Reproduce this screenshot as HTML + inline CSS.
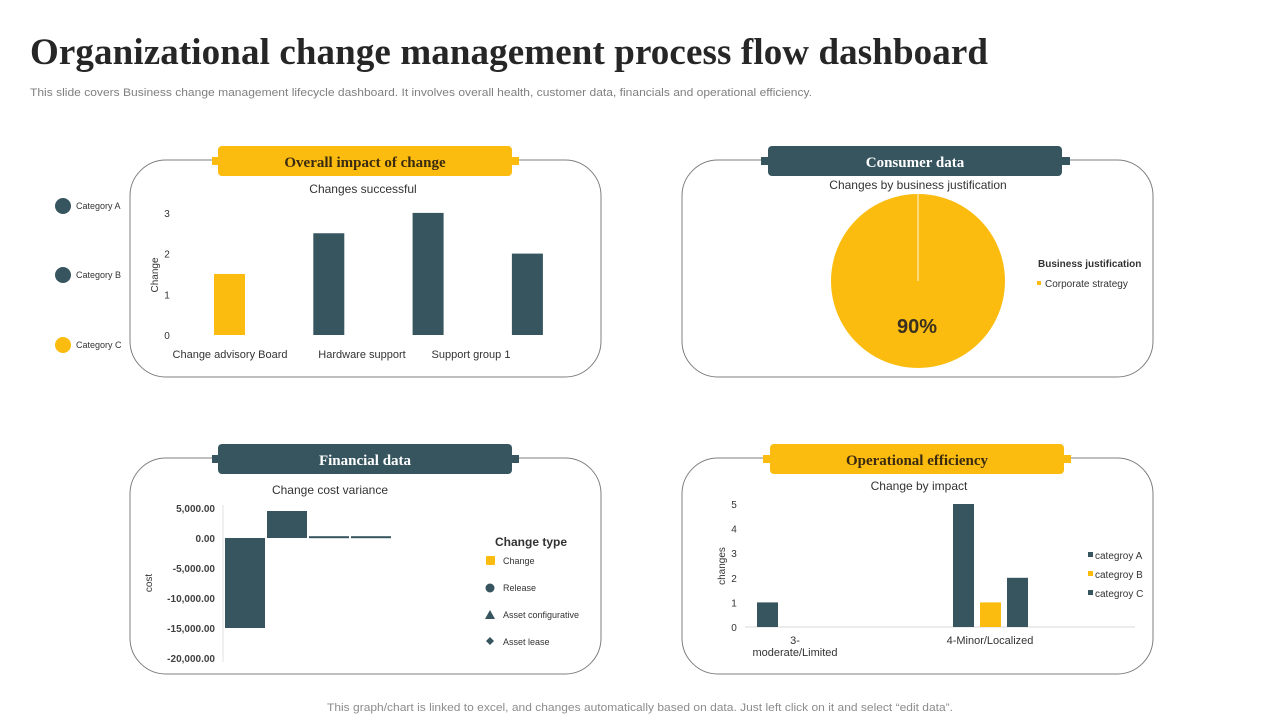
<!DOCTYPE html>
<html><head><meta charset="utf-8"><style>
html,body{margin:0;padding:0;background:#fff;}
svg{display:block;font-family:"Liberation Sans",Arial,sans-serif;}
</style></head><body>
<svg id="s" width="1280" height="720" viewBox="0 0 1280 720" xmlns="http://www.w3.org/2000/svg">
<text x="30" y="64" font-family="Liberation Serif,serif" font-weight="bold" font-size="37" fill="#262626" textLength="958" lengthAdjust="spacing">Organizational change management process flow dashboard</text>
<text x="30" y="96" font-size="11" fill="#7f7f7f" textLength="782" lengthAdjust="spacingAndGlyphs">This slide covers Business change management lifecycle dashboard. It involves overall health, customer data, financials and operational efficiency.</text>
<text x="327" y="711" font-size="11" fill="#8c8c8c" textLength="626" lengthAdjust="spacingAndGlyphs">This graph/chart is linked to excel,  and changes automatically based on data. Just left click on it and select “edit data”.</text>

<g fill="none" stroke="#7f7f7f" stroke-width="1">
<rect x="130" y="160" width="471" height="217" rx="36"/>
<rect x="682" y="160" width="471" height="217" rx="36"/>
<rect x="130" y="458" width="471" height="216" rx="36"/>
<rect x="682" y="458" width="471" height="216" rx="36"/>
</g>
<g>
<rect x="220" y="159" width="291" height="3" fill="#fff"/>
<rect x="212" y="157" width="8" height="8" fill="#FBBC0F"/><rect x="511" y="157" width="8" height="8" fill="#FBBC0F"/>
<rect x="218" y="146" width="294" height="30" rx="4" fill="#FBBC0F"/>
<text x="365" y="167" text-anchor="middle" font-family="Liberation Serif,serif" font-weight="bold" font-size="15" fill="#3a2a10">Overall impact of change</text></g>
<g>
<rect x="769" y="159" width="293" height="3" fill="#fff"/>
<rect x="761" y="157" width="8" height="8" fill="#37555F"/><rect x="1062" y="157" width="8" height="8" fill="#37555F"/>
<rect x="768" y="146" width="294" height="30" rx="4" fill="#37555F"/>
<text x="915" y="167" text-anchor="middle" font-family="Liberation Serif,serif" font-weight="bold" font-size="15" fill="#fff">Consumer data</text></g>
<g>
<rect x="220" y="457" width="291" height="3" fill="#fff"/>
<rect x="212" y="455" width="8" height="8" fill="#37555F"/><rect x="511" y="455" width="8" height="8" fill="#37555F"/>
<rect x="218" y="444" width="294" height="30" rx="4" fill="#37555F"/>
<text x="365" y="465" text-anchor="middle" font-family="Liberation Serif,serif" font-weight="bold" font-size="15" fill="#fff">Financial data</text></g>
<g>
<rect x="771" y="457" width="292" height="3" fill="#fff"/>
<rect x="763" y="455" width="8" height="8" fill="#FBBC0F"/><rect x="1063" y="455" width="8" height="8" fill="#FBBC0F"/>
<rect x="770" y="444" width="294" height="30" rx="4" fill="#FBBC0F"/>
<text x="917" y="465" text-anchor="middle" font-family="Liberation Serif,serif" font-weight="bold" font-size="15" fill="#3a2a10">Operational efficiency</text></g>

<g font-size="9" fill="#333">
<circle cx="63" cy="206" r="8" fill="#37555F"/><text x="76" y="209">Category A</text>
<circle cx="63" cy="275" r="8" fill="#37555F"/><text x="76" y="278">Category B</text>
<circle cx="63" cy="345" r="8" fill="#FBBC0F"/><text x="76" y="348">Category C</text>
</g>

<g font-size="12" fill="#333" text-anchor="middle">
<text x="363" y="193">Changes successful</text>
<text x="918" y="189">Changes by business justification</text>
<text x="330" y="494">Change cost variance</text>
<text x="919" y="490">Change by impact</text>
</g>
<text transform="translate(158,275) rotate(-90)" text-anchor="middle" font-size="10" fill="#333">Change</text>
<text transform="translate(152,583) rotate(-90)" text-anchor="middle" font-size="10" fill="#333">cost</text>
<text transform="translate(725,566) rotate(-90)" text-anchor="middle" font-size="10" fill="#333">changes</text>

<g font-size="10" fill="#333">
<text x="1038" y="267" font-weight="bold">Business justification</text>
<rect x="1037" y="281" width="4" height="4" fill="#FBBC0F"/><text x="1045" y="287">Corporate strategy</text>
</g>
<g font-size="9" fill="#333">
<text x="495" y="546" font-size="12" font-weight="bold">Change type</text>
<rect x="486" y="556" width="9" height="9" rx="1" fill="#FBBC0F"/><text x="503" y="564">Change</text>
<circle cx="490" cy="588" r="4.5" fill="#37555F"/><text x="503" y="591">Release</text>
<polygon points="490,610 495,619 485,619" fill="#37555F"/><text x="503" y="618">Asset  configurative</text>
<polygon points="490,637 494,641 490,645 486,641" fill="#37555F"/><text x="503" y="645">Asset  lease</text>
</g>
<g font-size="10" fill="#333">
<rect x="1088" y="552" width="5" height="5" fill="#37555F"/><text x="1095" y="559">categroy A</text>
<rect x="1088" y="571" width="5" height="5" fill="#FBBC0F"/><text x="1095" y="578">categroy B</text>
<rect x="1088" y="590" width="5" height="5" fill="#37555F"/><text x="1095" y="597">categroy C</text>
</g>
<g id="dyn"></g>
</svg>
<script>
const impactCategories = ["Change advisory Board","Hardware support","Support group 1",""];
const impactValues = [1.5, 2.5, 3, 2];
const impactTicks = [0,1,2,3];
const pieLabels = ["Corporate strategy"];
const pieValues = [90];
const costValues = [-15000, 4500, 300, 300];
const costTicks = [5000,0,-5000,-10000,-15000,-20000];
const costTickLabels = ["5,000.00","0.00","-5,000.00","-10,000.00","-15,000.00","-20,000.00"];
const opsCategories = ["3-|moderate/Limited","4-Minor/Localized"];
const opsA = [1, 5];
const opsB = [0, 1];
const opsC = [0, 2];
const opsTicks = [0,1,2,3,4,5];

const NS="http://www.w3.org/2000/svg", D=document.getElementById('dyn');
function mk(t,a,txt){const e=document.createElementNS(NS,t);for(const k in a)e.setAttribute(k,a[k]);if(txt!==undefined)e.textContent=txt;D.appendChild(e);return e;}
const Y="#FBBC0F",T="#37555F";

const iy=v=>335-v*40.7;
impactTicks.forEach(t=>{const e=mk('text',{x:167,y:iy(t)+4,'text-anchor':'middle','font-size':10,fill:'#333'},t);

});
impactValues.forEach((v,i)=>{const x=214+i*99.3;const e=mk('rect',{x:x,y:iy(v),width:31,height:iy(0)-iy(v),fill:i==0?Y:T});

});
[230,362,471].forEach((cx,i)=>{const e=mk('text',{x:cx,y:358,'text-anchor':'middle','font-size':11,fill:'#333'},impactCategories[i]);

});

// pie: single series rendered as full yellow disc (only slice shown in reference)
const cx=918,cy=281,r=87;
const tot=pieValues.reduce((a,b)=>a+b,0);
let ang=-Math.PI/2;
pieValues.forEach((v,i)=>{const a2=ang+v/tot*2*Math.PI-0.0001;const large=(a2-ang)>Math.PI?1:0;
const d=`M${cx},${cy} L${cx+r*Math.cos(ang)},${cy+r*Math.sin(ang)} A${r},${r} 0 ${large} 1 ${cx+r*Math.cos(a2)},${cy+r*Math.sin(a2)} Z`;
const e=mk('path',{d:d,fill:Y});

ang=a2;});
mk('line',{x1:cx,y1:cy-r,x2:cx,y2:cy,stroke:'#fbefc6','stroke-width':1.2});
const pl=mk('text',{x:917,y:333,'text-anchor':'middle','font-size':20,'font-weight':'bold',fill:'#3a3020'},pieValues[0]+'%');



const cyf=v=>538-v*0.006;
mk('line',{x1:223,y1:505,x2:223,y2:662,stroke:'#e0e0e0'});
costTicks.forEach((t,i)=>{const e=mk('text',{x:215,y:cyf(t)+4,'text-anchor':'end','font-size':10,'font-weight':'bold',fill:'#404040'},costTickLabels[i]);

});
costValues.forEach((v,i)=>{const x=225+i*42;const y0=Math.min(cyf(v),cyf(0)),h=Math.max(Math.abs(cyf(v)-cyf(0)),2);
const e=mk('rect',{x:x,y:y0,width:40,height:h,fill:T});

});

const oy=v=>627-v*24.6;
mk('line',{x1:745,y1:oy(0),x2:1135,y2:oy(0),stroke:'#d9d9d9'});
opsTicks.forEach(t=>{const e=mk('text',{x:734,y:oy(t)+4,'text-anchor':'middle','font-size':10,fill:'#333'},t);

});
const gx=[757,953];
[opsA,opsB,opsC].forEach((s,si)=>{s.forEach((v,i)=>{if(v<=0)return;const x=gx[i]+si*27;
const e=mk('rect',{x:x,y:oy(v),width:21,height:oy(0)-oy(v),fill:si==1?Y:T});

});});
[795,990].forEach((c,i)=>{opsCategories[i].split('|').forEach((ln,j)=>{const e=mk('text',{x:c,y:644+j*12,'text-anchor':'middle','font-size':11,fill:'#333'},ln);

});});
</script>
</body></html>
